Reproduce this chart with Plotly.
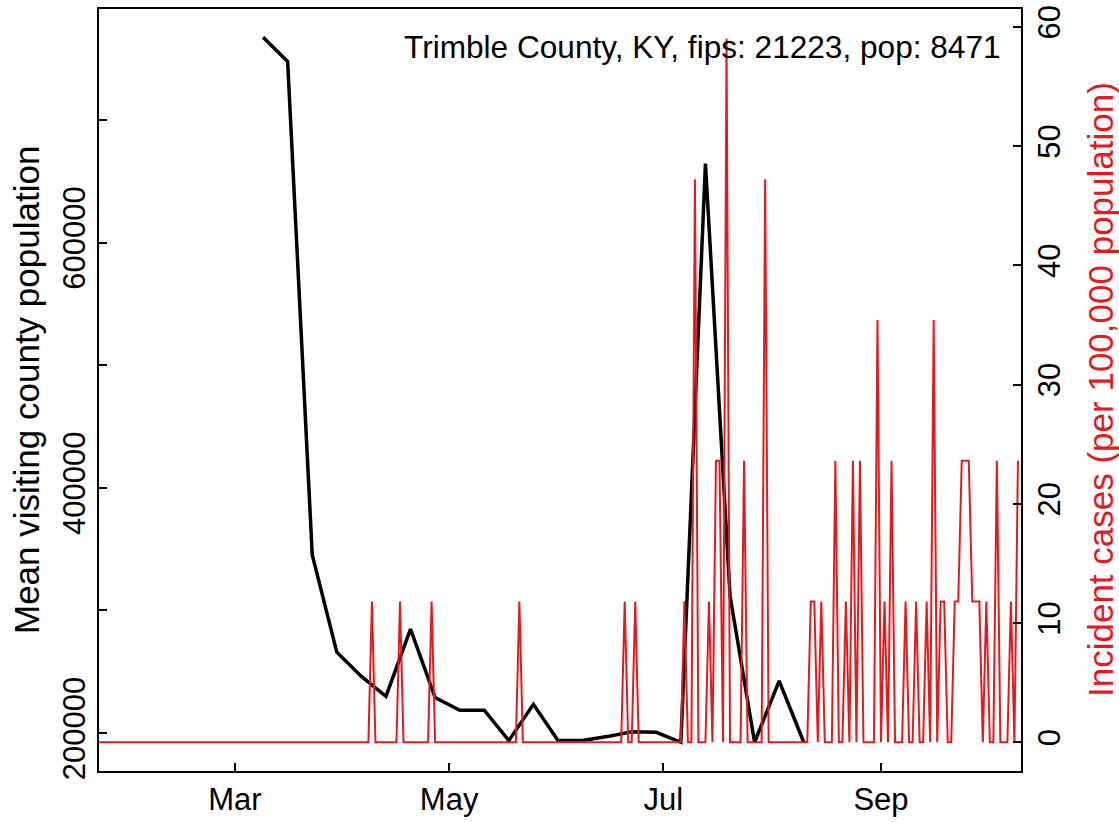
import pandas as pd
import plotly.graph_objects as go

# ---------------- data ----------------
# weekly mean visiting county population (black line)
visit_dates = ["2020-03-09", "2020-03-16", "2020-03-23", "2020-03-30", "2020-04-06",
               "2020-04-13", "2020-04-20", "2020-04-27", "2020-05-04", "2020-05-11",
               "2020-05-18", "2020-05-25", "2020-06-01", "2020-06-08", "2020-06-15",
               "2020-06-22", "2020-06-29", "2020-07-06", "2020-07-13", "2020-07-20",
               "2020-07-27", "2020-08-03", "2020-08-10"]
visit_values = [767500, 747600, 345500, 266000, 246200,
                230000, 284800, 229000, 218600, 218600,
                193900, 223400, 193900, 193900, 197100,
                201100, 200600, 192500, 664400, 312000,
                192500, 242600, 192500]

# daily incident cases per 100,000 population (red line), 2020-01-22 .. 2020-10-10
inc_jan = [0, 0, 0, 0, 0, 0, 0, 0, 0, 0]                                   # Jan 22-31
inc_feb = [0, 0, 0, 0, 0, 0, 0, 0, 0, 0,
           0, 0, 0, 0, 0, 0, 0, 0, 0, 0,
           0, 0, 0, 0, 0, 0, 0, 0, 0]                                      # Feb 1-29
inc_mar = [0, 0, 0, 0, 0, 0, 0, 0, 0, 0,
           0, 0, 0, 0, 0, 0, 0, 0, 0, 0,
           0, 0, 0, 0, 0, 0, 0, 0, 0, 0, 0]                                # Mar 1-31
inc_apr = [0, 0, 0, 0, 0, 0, 0, 0, 11.81, 0,
           0, 0, 0, 0, 0, 0, 11.81, 0, 0, 0,
           0, 0, 0, 0, 0, 11.81, 0, 0, 0, 0]                               # Apr 1-30
inc_may = [0, 0, 0, 0, 0, 0, 0, 0, 0, 0,
           0, 0, 0, 0, 0, 0, 0, 0, 0, 0,
           11.81, 0, 0, 0, 0, 0, 0, 0, 0, 0, 0]                            # May 1-31
inc_jun = [0, 0, 0, 0, 0, 0, 0, 0, 0, 0,
           0, 0, 0, 0, 0, 0, 0, 0, 0, 11.81,
           0, 0, 11.81, 0, 0, 0, 0, 0, 0, 0]                               # Jun 1-30
inc_jul = [0, 0, 0, 0, 0, 0, 11.81, 0, 0, 47.22,
           0, 0, 0, 11.81, 0, 23.61, 23.61, 0, 59.03, 0,
           0, 0, 0, 23.61, 0, 0, 0, 0, 0, 47.22, 0]                        # Jul 1-31
inc_aug = [0, 0, 0, 0, 0, 0, 0, 0, 0, 0,
           0, 11.81, 11.81, 0, 11.81, 0, 0, 0, 23.61, 0,
           0, 11.81, 0, 23.61, 0, 23.61, 0, 0, 0, 0, 35.42]                # Aug 1-31
inc_sep = [0, 11.81, 0, 23.61, 0, 0, 0, 11.81, 0, 0,
           11.81, 0, 0, 11.81, 0, 35.42, 0, 11.81, 11.81, 0,
           0, 11.81, 11.81, 23.61, 23.61, 23.61, 11.81, 11.81, 11.81, 0]   # Sep 1-30
inc_oct = [11.81, 0, 0, 23.61, 0, 0, 0, 11.81, 0, 23.61]                   # Oct 1-10

inc_values = inc_jan + inc_feb + inc_mar + inc_apr + inc_may + inc_jun + inc_jul + inc_aug + inc_sep + inc_oct
inc_dates = pd.date_range("2020-01-22", periods=len(inc_values), freq="D")

month_ticks = ["2020-03-01", "2020-05-01", "2020-07-01", "2020-09-01"]
month_labels = ["Mar", "May", "Jul", "Sep"]
left_ticks = [200000, 300000, 400000, 500000, 600000, 700000]
left_labels = ["200000", "", "400000", "", "600000", ""]
right_ticks = [0, 10, 20, 30, 40, 50, 60]
right_labels = ["0", "10", "20", "30", "40", "50", "60"]

title_text = "Trimble County, KY, fips: 21223, pop: 8471"

# ---------------- style ----------------
RED = "#E41A1C"
FONT = "Liberation Sans, Arial, Helvetica, sans-serif"
FS = 31
FS_LAB = 35

fig = go.Figure()
fig.add_trace(go.Scatter(x=visit_dates, y=visit_values, mode="lines",
                         line=dict(color="black", width=3.5), yaxis="y"))
fig.add_trace(go.Scatter(x=inc_dates, y=inc_values, mode="lines",
                         line=dict(color=RED, width=2), yaxis="y2"))

axis_common = dict(showgrid=False, zeroline=False, showline=True, linecolor="black",
                   linewidth=2, ticks="inside", ticklen=8, tickwidth=1.5, tickcolor="black",
                   tickfont=dict(family=FONT, size=FS, color="black"))

fig.update_layout(
    width=1119, height=822,
    margin=dict(l=99, r=98, t=5, b=48),
    paper_bgcolor="white", plot_bgcolor="white",
    showlegend=False,
    font=dict(family=FONT, size=FS, color="black"),
    xaxis=dict(type="date", range=["2020-01-22 06:30", "2020-10-10 21:00"],
               tickvals=month_ticks, ticktext=month_labels, mirror=True,
               **axis_common),
    yaxis=dict(range=[169050, 790470], tickvals=left_ticks, ticktext=left_labels,
               tickangle=-90, mirror=True, **axis_common),
    yaxis2=dict(range=[-2.41, 61.5], tickvals=right_ticks, ticktext=right_labels,
                tickangle=-90, overlaying="y", side="right", **axis_common),
)

fig.add_annotation(text="Mean visiting county population", xref="paper", yref="paper",
                   x=(26 - 99) / 922, y=0.5, xanchor="center", yanchor="middle",
                   textangle=-90, showarrow=False,
                   font=dict(family=FONT, size=FS_LAB, color="black"))
fig.add_annotation(text="Incident cases (per 100,000 population)", xref="paper", yref="paper",
                   x=(1100 - 99) / 922, y=0.5, xanchor="center", yanchor="middle",
                   textangle=-90, showarrow=False,
                   font=dict(family=FONT, size=FS_LAB, color=RED))
fig.add_annotation(text=title_text, xref="paper", yref="paper",
                   x=(1003 - 99) / 922, y=(774 - 43) / 769, xanchor="right", yanchor="middle",
                   showarrow=False, font=dict(family=FONT, size=31.6, color="black"))

fig.write_html("out.html", config={"displayModeBar": False},
               post_script="document.body.style.margin='0px';")
